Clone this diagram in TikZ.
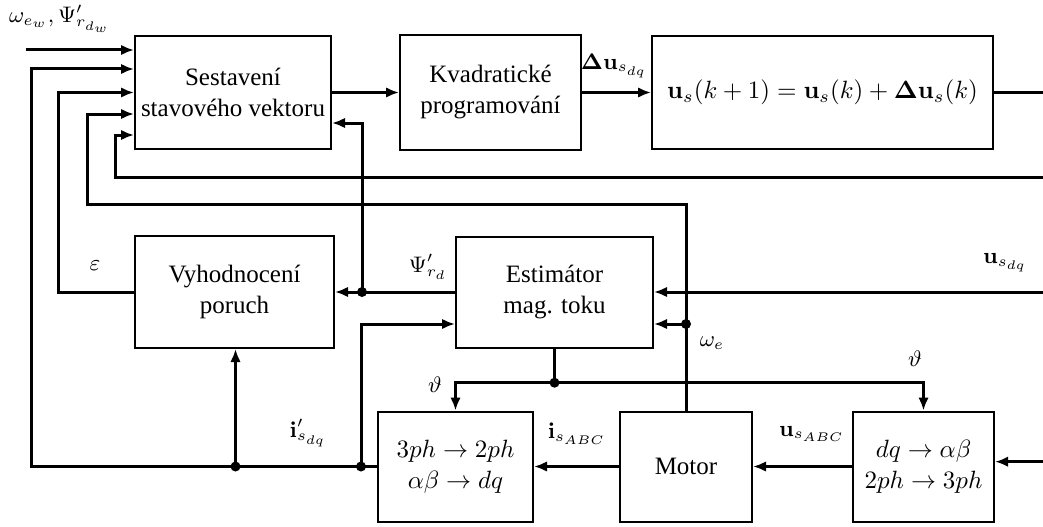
\documentclass[tikz,border=0pt]{standalone}
\usepackage[no-math]{fontspec}
\setmainfont{Liberation Serif}
\usepackage{amsmath}
\usetikzlibrary{arrows.meta, positioning, calc}

\tikzset{
  blok/.style={draw, line width=0.8pt, inner sep=0pt, align=center,
               font=\fontsize{10}{12.4}\selectfont},
  sig/.style={line width=1.2pt},
  arr/.style={sig, -{Latex[length=5.2pt, width=4.2pt]}},
  lbl/.style={font=\small, inner sep=0pt},
}
\newcommand{\bu}{\mathbf{u}}
\newcommand{\junc}[1]{\fill (#1) circle (2pt);}

\begin{document}
\begin{tikzpicture}[x=0.4pt, y=-0.4pt]
  \useasboundingbox (0,0) rectangle (1043,526);

  % bloky
  \node[blok, minimum width=78.4pt, minimum height=45.2pt] (sest) at (233,92.5)
    {Sestavení\\stavového vektoru};
  \node[blok, minimum width=72.4pt, minimum height=46pt] (kvad) at (490.5,92.5)
    {Kvadratické\\programování};
  \node[blok, minimum width=136.4pt, minimum height=45.2pt] (upd) at (822.5,92.5)
    {$\bu_s(k+1)=\bu_s(k)+\mathbf{\Delta}\bu_s(k)$};
  \node[blok, minimum width=79.6pt, minimum height=44.8pt] (vyh) at (234.5,292)
    {Vyhodnocení\\poruch};
  \node[blok, minimum width=78.8pt, minimum height=44.4pt] (est) at (554.5,292)
    {Estimátor\\mag. toku};
  \node[blok, minimum width=62pt, minimum height=44pt] (trA) at (455.5,466.5)
    {$3ph\rightarrow 2ph$\\$\alpha\beta\rightarrow dq$};
  \node[blok, minimum width=52.8pt, minimum height=44pt] (mot) at (686,466.5)
    {Motor};
  \node[blok, minimum width=56.4pt, minimum height=44pt] (trB) at (923.5,466.5)
    {$dq\rightarrow\alpha\beta$\\$2ph\rightarrow 3ph$};

  % horni vetev
  \coordinate (wIn) at (26,50);
  \draw[arr] (wIn) -- (wIn -| sest.west);
  \node[lbl] at (60,19) {$\omega_{e_w},\Psi'_{r_{d_w}}$};
  \draw[arr] (sest) -- (kvad);
  \draw[arr] (kvad) -- (upd);
  \node[lbl] at (614,66) {$\mathbf{\Delta}\bu_{s_{dq}}$};
  \draw[sig] (upd.east) -- (1043,92.5);

  % zpetna vazba u_s(k)
  \coordinate (fbIn) at (1043,177);
  \draw[arr] (fbIn) -| (115,135) -- (sest.west |- 0,135);

  % epsilon
  \draw[arr] (vyh.west) -| (58.3,92.5) -- (sest.west);
  \node[lbl] at (95,266) {$\varepsilon$};

  % Psi'
  \coordinate (jp) at (362,292);
  \draw[arr] (est.west) -- (vyh.east);
  \draw[arr] (jp) |- (sest.east |- 0,123);
  \junc{jp}
  \node[lbl] at (428,267) {$\Psi'_{r_d}$};

  % omega_e
  \coordinate (jw) at (mot.north |- 0,324);
  \draw[arr] (mot.north) |- (87.3,204) |- (sest.west |- 0,114);
  \draw[arr] (jw) -- (est.east |- jw);
  \junc{jw}
  \node[lbl] at (712,343) {$\omega_e$};

  % u_sdq
  \coordinate (uIn) at (1043,292);
  \draw[arr] (uIn) -- (est.east);
  \node[lbl] at (1005,263) {$\bu_{s_{dq}}$};

  % theta
  \coordinate (jt) at (554.5,382.7);
  \draw[sig] (est.south) -- (jt);
  \draw[arr] (jt) -| (trA.north);
  \draw[arr] (jt) -| (trB.north);
  \junc{jt}
  \node[lbl] at (435,385) {$\vartheta$};
  \node[lbl] at (915,359) {$\vartheta$};

  % i'_sdq
  \coordinate (ji1) at (361,466.5);
  \coordinate (ji2) at (235.5,466.5);
  \draw[arr] (trA.west) -| (31.7,69) -- (sest.west |- 0,69);
  \draw[arr] (ji1) |- (est.west |- 0,324);
  \draw[arr] (ji2) -- (ji2 |- vyh.south);
  \junc{ji1} \junc{ji2}
  \node[lbl] at (308,433) {$\mathbf{i}'_{s_{dq}}$};

  % motor
  \draw[arr] (mot) -- (trA);
  \draw[arr] (trB) -- (mot);
  \node[lbl] at (577,434) {$\mathbf{i}_{s_{ABC}}$};
  \node[lbl] at (812,434) {$\bu_{s_{ABC}}$};
  \coordinate (uIn2) at (1043,461.7);
  \draw[arr] (uIn2) -- (trB.east |- uIn2);
\end{tikzpicture}
\end{document}
